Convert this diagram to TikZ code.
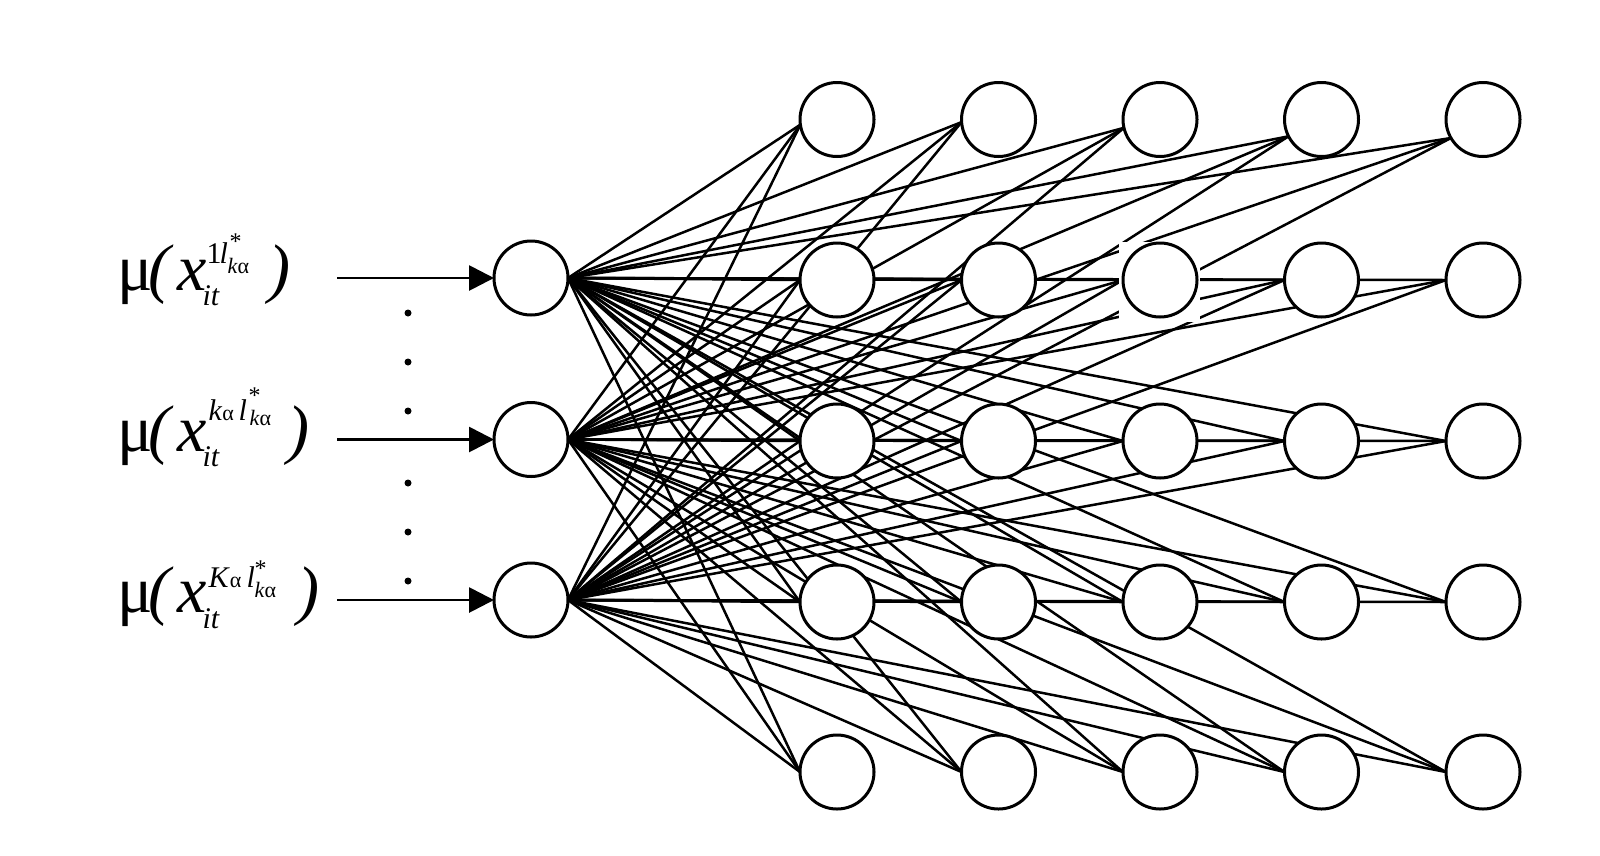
\documentclass[tikz,border=0pt]{standalone}
\usepackage{fontspec}
\setmainfont{Liberation Serif}
\usetikzlibrary{arrows.meta}
\pgfdeclarelayer{bg}
\pgfdeclarelayer{mid}
\pgfsetlayers{bg,mid,main}
\newcommand{\pc}[3]{\rlap{\hspace{#1pt}\raisebox{#2pt}{#3}}}
\newcommand{\fB}{\fontsize{66}{72}\selectfont}
\newcommand{\fS}{\fontsize{30}{32}\selectfont}
\newcommand{\fs}{\fontsize{22}{24}\selectfont}
\newcommand{\fst}{\fontsize{24}{26}\selectfont}
\begin{document}
\begin{tikzpicture}[x=1pt,y=-1pt,
  neuron/.style={circle, draw, line width=3pt, fill=white, minimum size=74pt, inner sep=0pt, outer sep=0pt},
  link/.style={line width=2.5pt},
  inarrow/.style={line width=2.8pt, -{Triangle[length=25pt,width=25pt]}},
  dotn/.style={circle, fill=black, inner sep=0pt, minimum size=7pt},
  lab/.style={anchor=base west, inner sep=0pt, outer sep=0pt}]
\useasboundingbox (0,0) rectangle (1600,855);

% input nodes
\node[neuron] (in1) at (531,278) {};
\node[neuron] (in2) at (531,439.5) {};
\node[neuron] (in3) at (531,600) {};

% grid nodes n<col><row>
\foreach \c/\x in {1/837,2/998.5,3/1160,4/1321.5,5/1483}
  \foreach \r/\y in {1/119.5,2/280,3/441,4/602,5/772}
    \node[neuron] (n\c\r) at (\x,\y) {};

% line end points
\foreach \c/\a in {1/188,2/184,3/193,4/207,5/210}
  \coordinate (t\c1) at (n\c1.\a);
\foreach \c in {1,...,5}
  \foreach \r in {2,...,5}
    \coordinate (t\c\r) at (n\c\r.west);

\begin{pgfonlayer}{bg}
\fill[white] (0,0) rectangle (1600,855);
\foreach \i in {1,2,3}
  \foreach \c in {1,...,5}
    \foreach \r in {1,...,5}
      \draw[link] (in\i.east) -- (t\c\r);
\end{pgfonlayer}
\begin{pgfonlayer}{mid}
\fill[white] (1119,242) rectangle (1200,322);
\end{pgfonlayer}

% input arrows
\coordinate (a1) at (337,278);
\coordinate (a2) at (337,439.5);
\coordinate (a3) at (337,600);
\draw[inarrow] (a1) -- (in1.west);
\draw[inarrow] (a2) -- (in2.west);
\draw[inarrow] (a3) -- (in3.west);

% dots
\foreach \k/\y in {1/313,2/362,3/411,4/483,5/532,6/581}
  \node[dotn] (d\k) at (408,\y) {};

% labels
\node[lab] (l1) at (117,290) {%
  \pc{0}{0}{\fB μ}\pc{31}{0}{\fB\itshape (}\pc{60}{0}{\fB\itshape x}%
  \pc{85}{-15}{\fS\itshape it}%
  \pc{89}{27}{\fS 1}\pc{102}{27}{\fS\itshape l}%
  \pc{112}{41}{\fst *}\pc{110}{17}{\fs\textit{k}α}%
  \pc{151}{0}{\fB\itshape )}\hspace{175pt}};
\node[lab] (l2) at (117,451) {%
  \pc{0}{0}{\fB μ}\pc{31}{0}{\fB\itshape (}\pc{60}{0}{\fB\itshape x}%
  \pc{85}{-15}{\fS\itshape it}%
  \pc{91}{31}{\fS\textit{k}\fs α}\pc{121}{31}{\fS\itshape l}%
  \pc{131}{48}{\fst *}\pc{132}{26}{\fs\textit{k}α}%
  \pc{170}{0}{\fB\itshape )}\hspace{194pt}};
\node[lab] (l3) at (117,612) {%
  \pc{0}{0}{\fB μ}\pc{31}{0}{\fB\itshape (}\pc{60}{0}{\fB\itshape x}%
  \pc{85}{-16}{\fS\itshape it}%
  \pc{91}{25}{\fS\textit{K}\fs α}\pc{129}{25}{\fS\itshape l}%
  \pc{137}{36}{\fst *}\pc{137}{15}{\fs\textit{k}α}%
  \pc{180}{0}{\fB\itshape )}\hspace{202pt}};
\end{tikzpicture}
\end{document}
